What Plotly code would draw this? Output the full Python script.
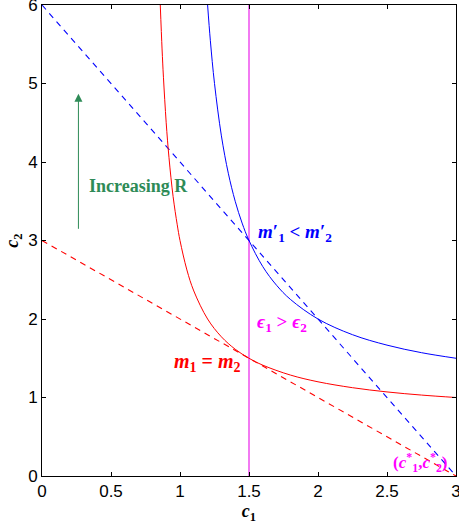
import plotly.graph_objects as go

# Curves
red_x = [0.857, 0.87, 0.88, 0.9, 0.92, 0.95, 0.98, 1.0, 1.05, 1.1, 1.2, 1.3, 1.4, 1.5, 1.6, 1.8, 2.0, 2.25, 2.5, 2.75, 3.0]
red_y = [6.0, 5.44, 5.08, 4.5, 4.06, 3.56, 3.2, 3.0, 2.625, 2.357, 2.0, 1.773, 1.615, 1.5, 1.412, 1.286, 1.2, 1.125, 1.071, 1.031, 1.0]

blue_x = [1.2, 1.22, 1.25, 1.3, 1.35, 1.4, 1.45, 1.5, 1.6, 1.7, 1.8, 2.0, 2.25, 2.5, 2.75, 3.0]
blue_y = [6.0, 5.545, 5.0, 4.333, 3.857, 3.5, 3.222, 3.0, 2.667, 2.429, 2.25, 2.0, 1.8, 1.667, 1.571, 1.5]

red_budget_x = [0, 3]
red_budget_y = [3, 0]
blue_budget_x = [0, 3]
blue_budget_y = [6, 0]
vline_x = [1.5, 1.5]
vline_y = [0, 6]

x_ticks = [0, 0.5, 1, 1.5, 2, 2.5, 3]
x_ticklabels = ["0", "0.5", "1", "1.5", "2", "2.5", "3"]
y_ticks = [0, 1, 2, 3, 4, 5, 6]
y_ticklabels = ["0", "1", "2", "3", "4", "5", "6"]

RED = "#ff0000"
BLUE = "#0000ff"
MAG = "#ff00ff"
GREEN = "#2e8b57"
SERIF = "Liberation Serif"

fig = go.Figure()
fig.add_trace(go.Scatter(x=vline_x, y=vline_y, mode="lines",
                         line=dict(color="#f27af2", width=2), hoverinfo="skip"))
fig.add_trace(go.Scatter(x=red_budget_x, y=red_budget_y, mode="lines",
                         line=dict(color=RED, width=1.1, dash="6px,5px")))
fig.add_trace(go.Scatter(x=blue_budget_x, y=blue_budget_y, mode="lines",
                         line=dict(color=BLUE, width=1.1, dash="6px,5px")))
fig.add_trace(go.Scatter(x=red_x, y=red_y, mode="lines",
                         line=dict(color=RED, width=1, shape="spline")))
fig.add_trace(go.Scatter(x=blue_x, y=blue_y, mode="lines",
                         line=dict(color=BLUE, width=1, shape="spline")))

def lab(x, y, text, color, size=20, xanchor="left"):
    fig.add_annotation(x=x, y=y, xref="x", yref="y", text=text, showarrow=False,
                       xanchor=xanchor, yanchor="middle",
                       font=dict(family=SERIF, size=size, color=color))

lab(1.55, 3.10, "<b><i>m</i>′<sub>1</sub> &lt; <i>m</i>′<sub>2</sub></b>", BLUE, size=19)
lab(1.54, 1.95, "<b><i>ϵ</i><sub>1</sub> &gt; <i>ϵ</i><sub>2</sub></b>", MAG, size=19)
lab(0.945, 1.44, "<b><i>m</i><sub>1</sub> = <i>m</i><sub>2</sub></b>", RED, size=20)
lab(2.53, 0.17, "<b>(<i>c</i><sup>*</sup><sub>1</sub>,<i>c</i><sup>*</sup><sub>2</sub>)</b>", MAG, size=17)
lab(0.325, 3.70, "<b>Increasing R</b>", GREEN, size=18)

fig.add_annotation(x=0.264, y=4.87, ax=0.264, ay=3.13, xref="x", yref="y",
                   axref="x", ayref="y", showarrow=True, arrowhead=2,
                   arrowsize=1.6, arrowwidth=1, arrowcolor=GREEN, text="")

axis_common = dict(showgrid=False, zeroline=False, showline=True, linecolor="black",
                   linewidth=1, mirror="ticks", ticks="inside", ticklen=4,
                   tickcolor="black", ticklabeloverflow="allow", automargin=False,
                   tickfont=dict(family="Liberation Sans", size=17, color="black"))

fig.update_xaxes(range=[0, 3], tickvals=x_ticks, ticktext=x_ticklabels,
                 title=dict(text="<b><i>c</i><sub>1</sub></b>", standoff=2,
                            font=dict(family=SERIF, size=18, color="black")),
                 **axis_common)
fig.update_yaxes(range=[0, 6], tickvals=y_ticks, ticktext=y_ticklabels,
                 title=dict(text="<b><i>c</i><sub>2</sub></b>", standoff=4,
                            font=dict(family=SERIF, size=18, color="black")),
                 **axis_common)

fig.update_layout(width=459, height=525, margin=dict(l=42, r=3, t=5, b=49),
                  plot_bgcolor="white", paper_bgcolor="white", showlegend=False)

fig.write_html("out.html")
